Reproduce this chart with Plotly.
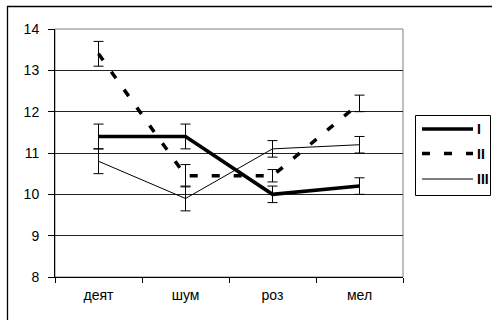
import plotly.graph_objects as go

categories = ["деят", "шум", "роз", "мел"]
series_names = ["I", "II", "III"]
values_I = [11.4, 11.4, 10.0, 10.2]
err_I = [0.3, 0.3, 0.2, 0.2]
values_II = [13.4, 10.45, 10.45, 12.2]
err_II = [0.3, 0.27, 0.15, 0.2]
values_III = [10.8, 9.9, 11.1, 11.2]
err_III = [0.3, 0.3, 0.2, 0.2]
y_ticks = [8, 9, 10, 11, 12, 13, 14]

FONT = "Liberation Sans, Arial, sans-serif"
W, H = 492, 320
L, R, T, B = 55, 89, 29, 43
PW, PH = W - L - R, H - T - B

def px_x(px):
    return (px - L) / PW

def px_y(py):
    return (H - B - py) / PH

line_styles = [
    dict(color="black", width=3.5),
    dict(color="black", width=3.5, dash="8px,14px"),
    dict(color="black", width=1),
]

fig = go.Figure()
for vals, errs, name, line in zip([values_I, values_II, values_III],
                                  [err_I, err_II, err_III],
                                  series_names, line_styles):
    fig.add_trace(go.Scatter(
        x=categories, y=vals, mode="lines", name=name, line=line,
        showlegend=False,
        error_y=dict(type="data", array=errs, visible=True, color="black",
                     thickness=1, width=5),
    ))

shapes = [
    dict(type="rect", xref="paper", yref="paper", x0=0, x1=1, y0=0, y1=1,
         line=dict(color="#808080", width=1), layer="below"),
    dict(type="rect", xref="paper", yref="paper",
         x0=px_x(7.5), x1=2, y0=-1, y1=px_y(6.5),
         line=dict(color="black", width=1.3), layer="below"),
    # legend box
    dict(type="rect", xref="paper", yref="paper",
         x0=px_x(415.5), x1=px_x(490.5), y0=px_y(195.5), y1=px_y(115.5),
         line=dict(color="black", width=1), fillcolor="white", layer="above"),
]
annotations = []
legend_rows = [129, 153.5, 179]
for name, line, row in zip(series_names, line_styles, legend_rows):
    shapes.append(dict(type="line", xref="paper", yref="paper",
                       x0=px_x(422), x1=px_x(473), y0=px_y(row), y1=px_y(row),
                       line=line, layer="above"))
    annotations.append(dict(text="<b>" + name + "</b>", xref="paper", yref="paper",
                            x=px_x(475), y=px_y(row), xanchor="left",
                            yanchor="middle", showarrow=False,
                            font=dict(family=FONT, size=14, color="black")))

fig.update_layout(
    width=W, height=H,
    margin=dict(l=L, r=R, t=T, b=B, pad=0),
    paper_bgcolor="white", plot_bgcolor="white",
    font=dict(family=FONT, size=13, color="black"),
    showlegend=False,
    xaxis=dict(
        type="category", range=[-0.5, 3.5], showgrid=False,
        showline=True, linecolor="black", linewidth=1,
        ticks="outside", ticklen=5, tickcolor="black", tickson="boundaries",
        tickfont=dict(family=FONT, size=14), ticklabelstandoff=5,
    ),
    yaxis=dict(
        range=[8, 14], tickvals=y_ticks, showgrid=True, gridcolor="#222222",
        gridwidth=1, zeroline=False,
        showline=True, linecolor="black", linewidth=1,
        ticks="outside", ticklen=6, tickcolor="black",
        tickfont=dict(family=FONT, size=14), ticklabelstandoff=6,
    ),
    shapes=shapes,
    annotations=annotations,
)

fig.write_html("out.html")
